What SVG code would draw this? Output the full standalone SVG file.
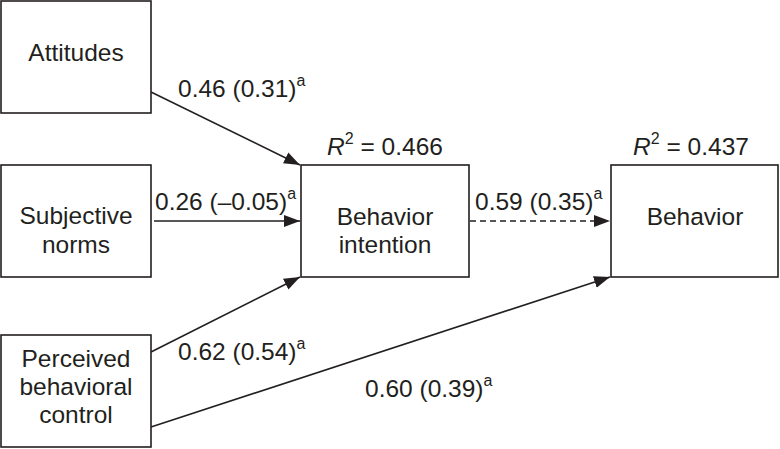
<svg xmlns="http://www.w3.org/2000/svg" width="780" height="449" viewBox="0 0 780 449">
<style>
text{font-family:"Liberation Sans",Arial,sans-serif;font-size:24.5px;fill:#231f20}
.box{fill:#fff;stroke:#231f20;stroke-width:1.6}
.c{text-anchor:middle}
.ln{stroke:#231f20;stroke-width:1.6;fill:none;marker-end:url(#ah)}
.dash{stroke-dasharray:6 4}
.sup{font-size:16px}
</style>
<defs>
<marker id="ah" markerUnits="userSpaceOnUse" markerWidth="17" markerHeight="14" viewBox="0 0 17 14" refX="16" refY="7" orient="auto">
<path d="M0,1 L16,7 L0,13 z" fill="#231f20"/>
</marker>
</defs>
<rect width="780" height="449" fill="#fff"/>
<g id="connectors">
<line class="ln" x1="151" y1="92" x2="300" y2="165"/>
<line class="ln" x1="154" y1="221" x2="300" y2="221"/>
<line class="ln" x1="151" y1="352" x2="300" y2="277"/>
<line class="ln dash" x1="470" y1="221" x2="610" y2="221"/>
<line class="ln" x1="151" y1="427" x2="610" y2="277"/>
<text x="178" y="97">0.46 (0.31)<tspan class="sup" dy="-11">a</tspan></text>
<text x="155" y="210">0.26 (–0.05)<tspan class="sup" dy="-11">a</tspan></text>
<text x="475" y="210">0.59 (0.35)<tspan class="sup" dy="-11">a</tspan></text>
<text x="178" y="360">0.62 (0.54)<tspan class="sup" dy="-11">a</tspan></text>
<text x="365" y="397">0.60 (0.39)<tspan class="sup" dy="-11">a</tspan></text>
</g>
<g id="attitudes">
<rect class="box" x="1" y="1" width="150" height="112"/>
<text class="c" x="76" y="61">Attitudes</text>
</g>
<g id="subjective-norms">
<rect class="box" x="1" y="165" width="150" height="112"/>
<text class="c" x="76" y="224">Subjective</text>
<text class="c" x="76" y="253">norms</text>
</g>
<g id="perceived-behavioral-control">
<rect class="box" x="1" y="335" width="150" height="112"/>
<text class="c" x="76" y="367">Perceived</text>
<text class="c" x="76" y="395">behavioral</text>
<text class="c" x="76" y="423">control</text>
</g>
<g id="behavior-intention">
<rect class="box" x="301" y="165" width="168" height="112"/>
<text class="c" x="385" y="225">Behavior</text>
<text class="c" x="385" y="253">intention</text>
<text class="c" x="385" y="155"><tspan font-style="italic">R</tspan><tspan class="sup" dy="-11">2</tspan><tspan dy="11"> = 0.466</tspan></text>
</g>
<g id="behavior">
<rect class="box" x="611" y="165" width="167" height="112"/>
<text class="c" x="695" y="225">Behavior</text>
<text class="c" x="691" y="155"><tspan font-style="italic">R</tspan><tspan class="sup" dy="-11">2</tspan><tspan dy="11"> = 0.437</tspan></text>
</g>
</svg>
